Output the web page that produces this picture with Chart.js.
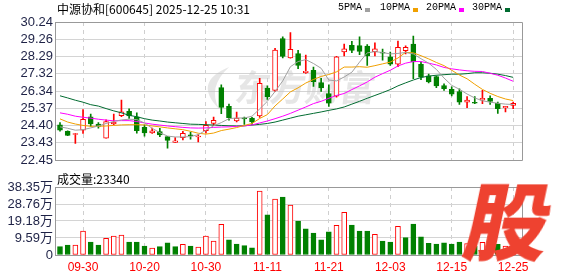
<!DOCTYPE html>
<html>
<head>
<meta charset="utf-8">
<script src="https://cdn.jsdelivr.net/npm/chart.js@4.4.1/dist/chart.umd.min.js"></script>
<style>
  body { margin: 0; background: #fff; width: 578px; height: 276px; overflow: hidden; position: relative; font-family: "Noto Sans CJK SC", sans-serif; }
  canvas { position: absolute; left: 0; }
  #price { top: 0; }
  #vol { top: 170px; }
  .title { position: absolute; left: 57px; top: 0px; font-size: 12px; color: #000; white-space: nowrap; }
  .lg { position: absolute; top: 2px; font: 10px "Liberation Mono", monospace; color: #000; white-space: nowrap; }
  .sw { position: absolute; top: 8px; width: 5px; height: 4px; }
  .vtitle { position: absolute; left: 57px; top: 170px; font-size: 12px; color: #000; white-space: nowrap; }
  .gu { position: absolute; left: 468px; top: 176px; font-size: 84px; font-weight: 900; color: #ee4230; line-height: 1; transform: skewX(-12deg); }
</style>
</head>
<body>
<canvas id="price" width="578" height="170"></canvas>
<canvas id="vol" width="578" height="106"></canvas>
<div class="title" id="title"></div>
<div id="legend"></div>
<div class="vtitle" id="vtitle"></div>
<div class="gu">股</div>
<script>
const stockName = "中源协和"
const stockCode = "600645"
const stamp = "2025-12-25 10:31"

const dates = ["09-25","09-26","09-29","09-30","10-09","10-10","10-13","10-14","10-15","10-16",
  "10-17","10-20","10-21","10-22","10-23","10-24","10-27","10-28","10-29","10-30",
  "10-31","11-03","11-04","11-05","11-06","11-07","11-10","11-11","11-12","11-13",
  "11-14","11-17","11-18","11-19","11-20","11-21","11-24","11-25","11-26","11-27",
  "11-28","12-01","12-02","12-03","12-04","12-05","12-08","12-09","12-10","12-11",
  "12-12","12-15","12-16","12-17","12-18","12-19","12-22","12-23","12-24","12-25"]
const labelDates = ["09-30","10-20","10-30","11-11","11-21","12-03","12-15","12-25"]

const open = [24.45,24.08,23.90,24.14,24.90,24.48,23.69,24.50,24.96,25.20,
  24.90,24.30,23.99,24.06,23.78,23.45,23.72,23.87,23.76,24.11,
  24.52,26.55,25.48,24.67,24.79,24.83,24.94,26.52,26.39,29.31,
  28.21,28.46,27.39,27.52,26.82,26.21,26.06,28.55,28.93,28.91,
  28.88,28.57,28.52,28.28,27.86,28.62,28.99,27.86,27.21,27.17,
  26.66,26.44,26.32,25.72,25.69,25.84,25.94,25.66,25.41,25.54]
const close = [24.14,23.85,23.93,24.76,24.49,24.36,24.63,24.59,25.17,24.94,
  24.11,23.99,24.11,23.87,23.57,23.54,23.96,23.83,23.81,24.41,
  24.70,25.43,24.85,24.83,24.78,24.61,26.79,26.03,28.66,28.30,
  28.70,27.79,27.46,26.88,26.52,25.66,28.28,28.73,28.64,28.58,
  28.33,28.73,28.48,27.87,28.81,28.81,27.99,27.13,26.86,26.63,
  26.48,26.17,25.72,25.84,25.66,25.94,25.76,25.35,25.48,25.66]
const high = [24.57,24.10,23.97,25.30,25.05,24.57,24.72,25.05,25.84,25.35,
  25.12,24.44,24.26,24.25,23.80,23.72,24.08,24.03,23.90,24.63,
  24.88,26.70,25.61,25.16,24.88,24.87,27.06,26.64,28.75,29.41,
  29.64,28.64,28.37,27.70,27.06,26.70,28.30,29.00,29.15,29.40,
  28.97,29.06,28.71,28.55,29.17,28.89,29.44,27.99,27.30,27.20,
  26.75,26.59,26.48,26.03,26.03,26.39,26.08,25.72,25.49,25.72]
const low = [24.08,23.83,23.40,23.96,24.35,24.26,23.69,24.45,24.90,24.81,
  23.97,23.81,23.96,23.78,23.13,23.45,23.59,23.63,23.48,23.97,
  24.40,25.07,24.70,24.61,24.47,24.47,24.86,25.88,26.32,28.21,
  28.20,27.61,27.34,26.61,26.33,25.48,26.00,28.33,28.51,28.40,
  27.79,28.33,28.09,27.79,27.72,28.44,27.04,26.99,26.81,26.54,
  26.39,26.08,25.59,25.41,25.63,25.63,25.59,25.08,25.17,25.35]

const ma5 = [24.33,24.25,24.14,24.17,24.27,24.38,24.52,24.63,24.72,24.76,
  24.74,24.55,24.25,24.00,23.81,23.76,23.76,23.78,23.89,24.14,
  24.39,24.57,24.79,24.83,24.83,24.93,25.34,25.77,26.32,26.92,
  27.72,28.01,28.12,27.90,27.63,26.97,26.92,27.14,27.41,27.98,
  28.50,28.57,28.52,28.44,28.47,28.52,28.44,28.17,27.92,27.57,
  27.08,26.67,26.45,26.18,25.96,25.80,25.72,25.66,25.61,25.59]
const ma10 = [24.78,24.60,24.49,24.41,24.36,24.36,24.38,24.41,24.44,24.45,
  24.45,24.44,24.38,24.33,24.27,24.22,24.17,24.08,23.97,23.92,
  23.98,24.12,24.20,24.29,24.41,24.52,24.80,25.02,25.51,25.90,
  26.30,26.53,26.80,27.00,27.17,27.28,27.43,27.70,27.70,27.72,
  27.69,27.78,27.88,27.98,28.21,28.53,28.50,28.34,28.16,27.96,
  27.78,27.52,27.25,27.04,26.73,26.44,26.22,26.04,25.90,25.81]
const ma20 = [25.12,25.04,24.93,24.87,24.82,24.76,24.71,24.67,24.68,24.68,
  24.63,24.55,24.48,24.43,24.38,24.34,24.30,24.27,24.26,24.27,
  24.30,24.32,24.33,24.36,24.38,24.44,24.55,24.66,24.79,24.93,
  25.09,25.27,25.45,25.64,25.77,25.94,26.10,26.21,26.43,26.64,
  26.86,27.13,27.33,27.52,27.76,27.92,28.01,28.01,27.92,27.82,
  27.68,27.60,27.54,27.49,27.46,27.45,27.35,27.24,27.08,26.90]
const ma30 = [26.08,25.96,25.83,25.72,25.58,25.50,25.36,25.23,25.12,24.98,
  24.90,24.79,24.71,24.66,24.60,24.56,24.52,24.48,24.47,24.45,
  24.43,24.41,24.39,24.38,24.39,24.43,24.47,24.52,24.60,24.71,
  24.82,24.93,25.01,25.09,25.17,25.26,25.34,25.45,25.61,25.77,
  25.94,26.10,26.26,26.43,26.64,26.81,26.97,27.11,27.19,27.24,
  27.27,27.30,27.30,27.33,27.38,27.38,27.35,27.30,27.22,27.12]

// 成交量（万手）, 1 = 红 0 = 绿
const volume = [4.7,5.6,5.6,13.5,7.3,5.6,9.4,10.7,11.3,7.3,
  7.3,5.1,3.9,4.7,6.8,4.7,6.0,5.1,4.5,10.7,
  7.9,17.3,8.5,6.2,5.3,4.1,36.1,22.6,31.6,32.7,
  28.2,19.2,14.7,12.4,8.5,13.0,16.8,24.1,16.9,13.5,
  13.5,11.7,7.9,7.3,16.2,9.8,17.5,10.3,6.6,6.2,
  6.8,6.2,7.3,6.5,5.0,7.2,5.0,6.0,5.1,2.334]
const volUp = [0,0,1,1,0,0,1,1,1,0, 0,0,1,0,0,0,1,0,1,1,
  1,1,0,0,0,0,1,0,1,0, 1,0,0,0,0,0,1,1,0,0,
  0,1,0,0,1,0,0,0,0,0, 0,0,0,1,0,1,0,0,1,1]

const priceTicks = [22.45,23.43,24.40,25.37,26.34,27.32,28.29,29.26,30.24]
const volTicks = [0,9.59,19.18,28.76,38.35]

const maNames = ["5PMA","10PMA","20PMA","30PMA"]
const maColors = ["#a0a0a0","#f0a000","#ff00ff","#006b30"]
const RED = "#ff0000"
const GREEN = "#008000"

const tickIdx = labelDates.map(d => dates.indexOf(d))
const xMin = -0.65
const xMax = 60.15

document.getElementById("title").textContent = `${stockName}[${stockCode}] ${stamp}`
document.getElementById("vtitle").textContent = `成交量:${Math.round(volume[volume.length - 1] * 10000)}`

// 图例
const legendPos = [338, 380, 426, 472]
const legend = document.getElementById("legend")
maNames.forEach((n, k) => {
  const t = document.createElement("span")
  t.className = "lg"
  t.style.left = legendPos[k] + "px"
  t.textContent = n
  legend.appendChild(t)
  const s = document.createElement("span")
  s.className = "sw"
  s.style.left = (legendPos[k] + n.length * 6 + 3) + "px"
  s.style.background = maColors[k]
  legend.appendChild(s)
})

const up = i => close[i] >= open[i]

const frame = {
  id: "frame",
  afterDatasetsDraw(chart) {
    const { ctx, chartArea: a } = chart
    ctx.save()
    ctx.strokeStyle = "#999"
    ctx.lineWidth = 1
    ctx.beginPath()
    ctx.moveTo(Math.round(a.left) + 0.5, Math.round(a.top) + 0.5)
    ctx.lineTo(Math.round(a.right) + 0.5, Math.round(a.top) + 0.5)
    ctx.lineTo(Math.round(a.right) + 0.5, Math.round(a.bottom) + 0.5)
    ctx.lineTo(Math.round(a.left) + 0.5, Math.round(a.bottom) + 0.5)
    ctx.stroke()
    ctx.restore()
  }
}

const watermark = {
  id: "watermark",
  beforeDatasetsDraw(chart) {
    const { ctx, chartArea: a } = chart
    const cx = a.left + a.width * 0.39
    const cy = a.top + a.height * 0.47
    ctx.save()
    ctx.fillStyle = "rgba(200,200,200,0.45)"
    // 简单的叶子标志
    ctx.beginPath()
    ctx.moveTo(cx - 8, cy - 20)
    ctx.quadraticCurveTo(cx - 45, cy - 5, cx - 18, cy + 22)
    ctx.quadraticCurveTo(cx - 30, cy, cx - 8, cy - 20)
    ctx.fill()
    ctx.font = "bold 36px 'Noto Sans CJK SC'"
    ctx.textBaseline = "middle"
    ctx.letterSpacing = "-1px"
    ctx.transform(1, 0, -0.12, 1, 0, 0)
    ctx.fillText("东方财富", cx + 0.12 * cy - 2, cy)
    ctx.restore()
  }
}

const xScale = (showLabels) => ({
  type: "linear",
  min: xMin,
  max: xMax,
  offset: false,
  afterBuildTicks: s => { s.ticks = tickIdx.map(v => ({ value: v })) },
  afterFit: s => { s.height = showLabels ? 21 : 0 },
  grid: { color: "#cfcfcf", drawTicks: false, offset: false },
  border: { display: false, dash: [4, 4] },
  ticks: {
    display: showLabels,
    padding: 5,
    color: RED,
    font: { size: 12, family: "Liberation Sans" },
    maxRotation: 0,
    autoSkip: false,
    callback: v => dates[v]
  }
})

new Chart(document.getElementById("price"), {
  type: "bar",
  data: {
    datasets: [
      ...[ma5, ma10, ma20, ma30].map((arr, k) => ({
        type: "line",
        data: arr.map((v, i) => ({ x: i, y: v })),
        borderColor: maColors[k],
        borderWidth: 1,
        pointRadius: 0,
        tension: 0,
        order: 0
      })),
      {
        data: open.map((o, i) => ({ x: i, y: [o, close[i]] })),
        backgroundColor: open.map((o, i) => up(i) ? "#ffffff" : GREEN),
        borderColor: open.map((o, i) => up(i) ? RED : GREEN),
        borderWidth: 1,
        borderSkipped: false,
        barThickness: 5,
        minBarLength: 1,
        grouped: false,
        order: 1
      },
      {
        data: low.map((l, i) => ({ x: i, y: [l, high[i]] })),
        backgroundColor: low.map((l, i) => up(i) ? RED : GREEN),
        barThickness: 1,
        grouped: false,
        order: 2
      }
    ]
  },
  options: {
    responsive: false,
    animation: false,
    layout: { padding: { top: 22, right: 56, bottom: 5, left: 0 } },
    plugins: { legend: { display: false }, tooltip: { enabled: false } },
    scales: {
      x: xScale(false),
      y: {
        min: priceTicks[0],
        max: priceTicks[priceTicks.length - 1],
        afterBuildTicks: s => { s.ticks = priceTicks.map(v => ({ value: v })) },
        afterFit: s => { s.width = 55 },
        grid: { color: "#d4d4d4", drawTicks: false },
        border: { color: "#999" },
        ticks: {
          autoSkip: false,
          padding: 2,
          color: "#1e2246",
          font: { size: 13, family: "Liberation Sans" },
          callback: v => v.toFixed(2)
        }
      }
    }
  },
  plugins: [frame, watermark]
})

new Chart(document.getElementById("vol"), {
  type: "bar",
  data: {
    datasets: [{
      data: volume.map((v, i) => ({ x: i, y: v })),
      backgroundColor: volUp.map(u => u ? "#ffffff" : GREEN),
      borderColor: volUp.map(u => u ? RED : GREEN),
      borderWidth: 1,
      borderSkipped: false,
      barThickness: 5,
      grouped: false
    }]
  },
  options: {
    responsive: false,
    animation: false,
    layout: { padding: { top: 17, right: 56, bottom: 0, left: 0 } },
    plugins: { legend: { display: false }, tooltip: { enabled: false } },
    scales: {
      x: xScale(true),
      y: {
        min: volTicks[0],
        max: volTicks[volTicks.length - 1],
        afterBuildTicks: s => { s.ticks = volTicks.map(v => ({ value: v })) },
        afterFit: s => { s.width = 55 },
        grid: { color: "#d4d4d4", drawTicks: false },
        border: { color: "#999" },
        ticks: {
          autoSkip: false,
          padding: 2,
          color: "#1e2246",
          font: { size: 13, family: "Liberation Sans, Noto Sans CJK SC" },
          callback: v => v === 0 ? "0" : v.toFixed(2) + "万"
        }
      }
    }
  },
  plugins: [frame]
})
</script>
</body>
</html>
